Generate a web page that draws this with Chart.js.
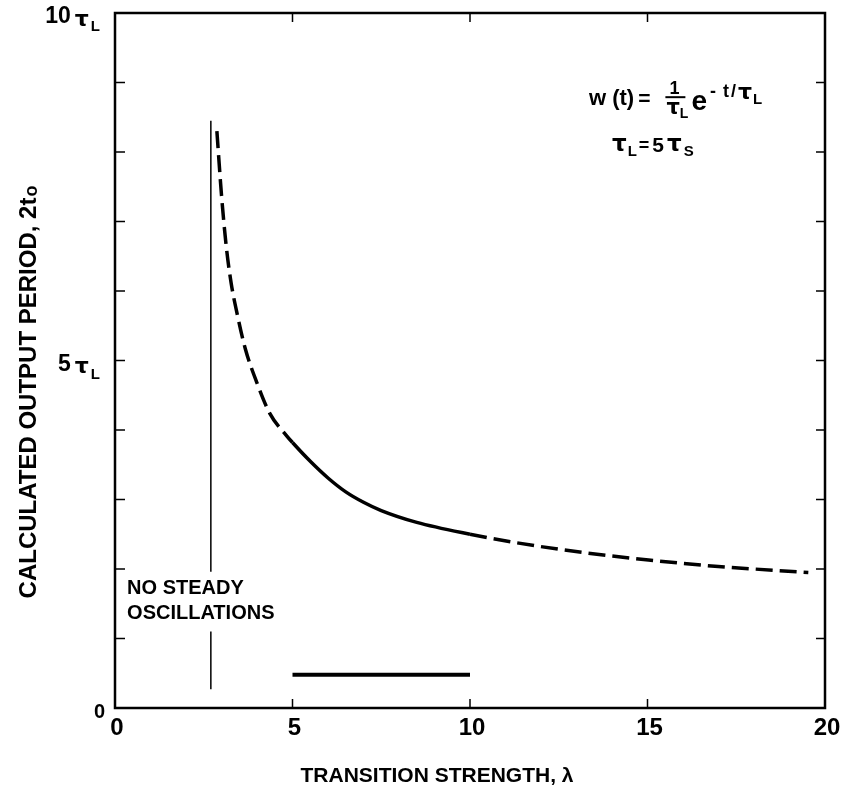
<!DOCTYPE html>
<html>
<head>
<meta charset="utf-8">
<script src="https://cdn.jsdelivr.net/npm/chart.js@4.4.1/dist/chart.umd.min.js"></script>
<style>
  html, body { margin: 0; padding: 0; background: #fff; }
  #wrap { width: 848px; height: 797px; }
</style>
</head>
<body>
<div id="wrap"><canvas id="periodChart" width="848" height="797"></canvas></div>
<script>
// Calculated output period (in units of tau_L) vs transition strength lambda
const lambdaValues = [2.87, 3.00, 3.13, 3.27, 3.45, 3.67, 3.99, 4.36, 4.83, 5.00, 5.50, 6.00, 6.50, 7.00, 7.50, 8.50, 10.0, 11.28, 13.15, 15.03, 16.9, 19.53];
const periodValues = [8.30, 7.38, 6.66, 6.12, 5.65, 5.17, 4.69, 4.24, 3.92, 3.82, 3.55, 3.31, 3.11, 2.96, 2.84, 2.67, 2.50, 2.38, 2.24, 2.13, 2.04, 1.95];
// curve is solid between these lambdas, dashed elsewhere
const solidFrom = 5;
const solidTo = 10;

// thin vertical boundary (broken where the label crosses it)
const boundaryX = [2.7, 2.7, 2.7, 2.7, 2.7];
const boundaryY = [8.45, 1.96, null, 1.10, 0.27];

// horizontal bar near the bottom
const barX = [5, 10];
const barY = [0.48, 0.48];

// axis ticks
const xTickValues = [0, 5, 10, 15, 20];
const xInnerTicks = [5, 10, 15];
const yInnerTicks = [1, 2, 3, 4, 5, 6, 7, 8, 9];
const yLabelTicks = [0, 5, 10];

const FONT = "'Liberation Sans', Arial, sans-serif";
const GREEK = "'DejaVu Sans', sans-serif";

function pts(xs, ys) {
  return xs.map((x, i) => ({ x: x, y: ys[i] }));
}

// text runs: [text, size, dy, gapAfter, family]
function setFont(ctx, r) {
  ctx.font = "bold " + r[1] + "px " + (r[4] || FONT);
}
function runsWidth(ctx, runs) {
  let w = 0;
  runs.forEach(r => {
    setFont(ctx, r);
    w += ctx.measureText(r[0]).width + (r[3] || 0);
  });
  return w;
}
function drawRuns(ctx, x, y, runs) {
  ctx.textAlign = "left";
  ctx.textBaseline = "middle";
  runs.forEach(r => {
    setFont(ctx, r);
    ctx.fillText(r[0], x, y + (r[2] || 0));
    x += ctx.measureText(r[0]).width + (r[3] || 0);
  });
  return x;
}

const decorations = {
  id: "decorations",
  afterDraw(chart) {
    const ctx = chart.ctx;
    const a = chart.chartArea;
    const xs = chart.scales.x;
    const ys = chart.scales.y;
    ctx.save();
    ctx.strokeStyle = "#000";
    ctx.fillStyle = "#000";

    // frame
    ctx.lineWidth = 2.5;
    ctx.strokeRect(a.left, a.top, a.right - a.left, a.bottom - a.top);

    // inward ticks
    ctx.lineWidth = 1.5;
    ctx.beginPath();
    yInnerTicks.forEach(v => {
      const py = ys.getPixelForValue(v);
      ctx.moveTo(a.left, py); ctx.lineTo(a.left + 10, py);
      ctx.moveTo(a.right, py); ctx.lineTo(a.right - 9, py);
    });
    xInnerTicks.forEach(v => {
      const px = xs.getPixelForValue(v);
      ctx.moveTo(px, a.bottom); ctx.lineTo(px, a.bottom - 9);
      ctx.moveTo(px, a.top); ctx.lineTo(px, a.top + 9);
    });
    ctx.stroke();

    // x tick labels
    ctx.font = "bold 24px " + FONT;
    ctx.textAlign = "center";
    ctx.textBaseline = "middle";
    xTickValues.forEach(v => {
      ctx.fillText(String(v), xs.getPixelForValue(v) + 2, a.bottom + 20);
    });

    // y tick labels
    yLabelTicks.forEach(v => {
      const py = ys.getPixelForValue(v) + 4;
      if (v === 0) {
        ctx.font = "bold 20px " + FONT;
        ctx.textAlign = "right";
        ctx.fillText("0", a.left - 10, py);
      } else {
        const runs = [[String(v), 23, 0, 4], ["τ", 22, 3, 2, GREEK], ["L", 15, 10, 0]];
        drawRuns(ctx, a.left - 15 - runsWidth(ctx, runs), py, runs);
      }
    });

    // axis titles
    ctx.font = "bold 21px " + FONT;
    ctx.textAlign = "center";
    ctx.textBaseline = "middle";
    ctx.fillText("TRANSITION STRENGTH, λ", 437, 776);

    ctx.save();
    ctx.translate(29, 392);
    ctx.rotate(-Math.PI / 2);
    const yRuns = [["CALCULATED OUTPUT PERIOD, 2t", 24, 0, 1], ["o", 18, 3, 0]];
    drawRuns(ctx, -runsWidth(ctx, yRuns) / 2, 0, yRuns);
    ctx.restore();

    // region label
    ctx.font = "bold 20px " + FONT;
    ctx.textAlign = "left";
    ctx.textBaseline = "middle";
    ctx.fillText("NO STEADY", xs.getPixelForValue(0.34), ys.getPixelForValue(1.72));
    ctx.fillText("OSCILLATIONS", xs.getPixelForValue(0.34), ys.getPixelForValue(1.36));

    // weighting function annotation
    const fx = xs.getPixelForValue(13.35);
    const fy = ys.getPixelForValue(8.76);
    let cx = drawRuns(ctx, fx, fy, [["w (t)", 22, 0, 4], ["=", 21, 0, 15]]);
    // fraction 1 / tau_L
    ctx.textAlign = "center";
    ctx.font = "bold 18px " + FONT;
    ctx.fillText("1", cx + 9, fy - 10);
    ctx.lineWidth = 2;
    ctx.beginPath();
    ctx.moveTo(cx, fy - 2); ctx.lineTo(cx + 20, fy - 2);
    ctx.stroke();
    drawRuns(ctx, cx + 1, fy + 9, [["τ", 21, 0, 0, GREEK], ["L", 14, 6, 0]]);
    cx += 26;
    cx = drawRuns(ctx, cx, fy + 3, [["e", 28, 0, 3]]);
    drawRuns(ctx, cx, fy - 7, [["-", 18, 0, 7], ["t", 18, 0, 2], ["/", 18, 0, 2], ["τ", 22, 1, 1, GREEK], ["L", 15, 8, 0]]);

    const gx = xs.getPixelForValue(14.0);
    const gy = ys.getPixelForValue(8.1);
    drawRuns(ctx, gx, gy, [["τ", 23, 0, 1, GREEK], ["L", 15, 7, 2], ["=", 18, 1, 3], ["5", 21, 1, 3], ["τ", 23, 0, 2, GREEK], ["S", 15, 7, 0]]);

    ctx.restore();
  }
};

new Chart(document.getElementById("periodChart"), {
  type: "scatter",
  data: {
    datasets: [
      {
        label: "output period",
        data: pts(lambdaValues, periodValues),
        showLine: true,
        borderColor: "#000",
        borderWidth: 3.5,
        pointRadius: 0,
        cubicInterpolationMode: "monotone",
        segment: {
          borderDash: c => (c.p0.parsed.x >= solidFrom && c.p1.parsed.x <= solidTo) ? undefined : [17, 7]
        }
      },
      {
        label: "boundary",
        data: pts(boundaryX, boundaryY),
        showLine: true,
        spanGaps: false,
        borderColor: "#000",
        borderWidth: 1.5,
        pointRadius: 0
      },
      {
        label: "bar",
        data: pts(barX, barY),
        showLine: true,
        borderColor: "#000",
        borderWidth: 4,
        pointRadius: 0
      }
    ]
  },
  options: {
    responsive: false,
    animation: false,
    devicePixelRatio: 1,
    layout: { padding: { top: 13, right: 23, left: 0, bottom: 0 } },
    plugins: { legend: { display: false }, tooltip: { enabled: false } },
    scales: {
      x: {
        type: "linear", min: 0, max: 20,
        ticks: { display: false },
        grid: { display: false },
        border: { display: false },
        afterFit: s => { s.height = 89; }
      },
      y: {
        type: "linear", min: 0, max: 10,
        ticks: { display: false },
        grid: { display: false },
        border: { display: false },
        afterFit: s => { s.width = 115; }
      }
    }
  },
  plugins: [decorations]
});
</script>
</body>
</html>
